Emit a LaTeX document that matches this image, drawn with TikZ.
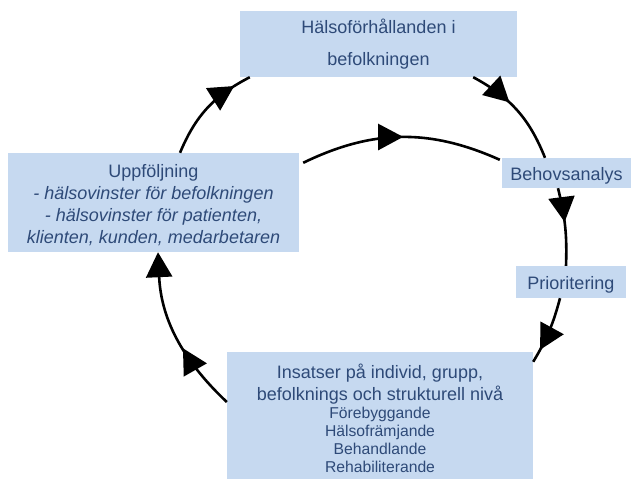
\documentclass[tikz,border=0pt]{standalone}
\usepackage{fontspec}
\setmainfont{Liberation Sans}
\usepackage{tikz}
\usetikzlibrary{arrows.meta}
\usetikzlibrary{decorations.markings}

\definecolor{boxfill}{RGB}{198,217,240}
\definecolor{boxtext}{RGB}{46,74,120}
\newcommand{\minortext}[1]{{\fontsize{15.7}{18}\selectfont #1}}

\begin{document}
\begin{tikzpicture}[x=1pt, y=-1pt, line join=round,
  box/.style={fill=boxfill, text=boxtext, inner sep=0pt, align=center,
    font=\fontsize{18}{22}\selectfont},
  flow/.style={line width=2.6pt, postaction={decorate},
    decoration={markings, mark=at position #1 with {\arrow{Triangle[length=25pt,width=26pt]}}}}]
\useasboundingbox (0,0) rectangle (631,479);

\node[box, minimum width=277pt, minimum height=66pt] (health) at (378.5,44)
  {Hälsoförhållanden i\\[10pt]befolkningen};
\node[box, minimum width=291pt, minimum height=99pt] (followup) at (153.5,202.5)
  {\rule{0pt}{19pt}Uppföljning\\\textit{- hälsovinster för befolkningen}\\
   \textit{- hälsovinster för patienten,}\\\textit{klienten, kunden, medarbetaren}};
\node[box, minimum width=129pt, minimum height=30pt, text height=18pt, text depth=4pt] (needs)
  at (566.5,173) {Behovsanalys};
\node[box, minimum width=110pt, minimum height=32pt, text height=18pt, text depth=4pt] (priority)
  at (571,282) {Prioritering};
\node[box, minimum width=306pt, minimum height=127pt] (actions) at (380,415.5)
  {\rule{0pt}{20pt}Insatser på individ, grupp,\\befolknings och strukturell nivå\\[-4pt]
   \minortext{Förebyggande}\\[-4pt]\minortext{Hälsofrämjande}\\[-4pt]
   \minortext{Behandlande}\\[-4pt]\minortext{Rehabiliterande}};

\draw[flow=0.83] ([xshift=26.5pt]followup.north) to[bend left=20] ([xshift=10pt]health.south west);
\draw[flow=0.4] ([xshift=-44pt]health.south east) to[bend left=20] ([xshift=-21.5pt]needs.north);
\draw[flow=0.51] ([shift={(4,10)}]followup.north east) to[bend left=25] ([shift={(-2,2)}]needs.north west);
\draw[flow=0.44] ([xshift=-8.5pt]needs.south) to[bend left=8] ([xshift=-5pt]priority.north);
\draw[flow=0.8] ([xshift=-11pt]priority.south) to[bend left=8] ([yshift=-10pt]actions.north east);
\draw[flow=0.41, -{Triangle[length=25pt,width=26pt]}] ([yshift=13.5pt]actions.west)
  to[bend left=22] ([xshift=4.5pt]followup.south);
\end{tikzpicture}
\end{document}
